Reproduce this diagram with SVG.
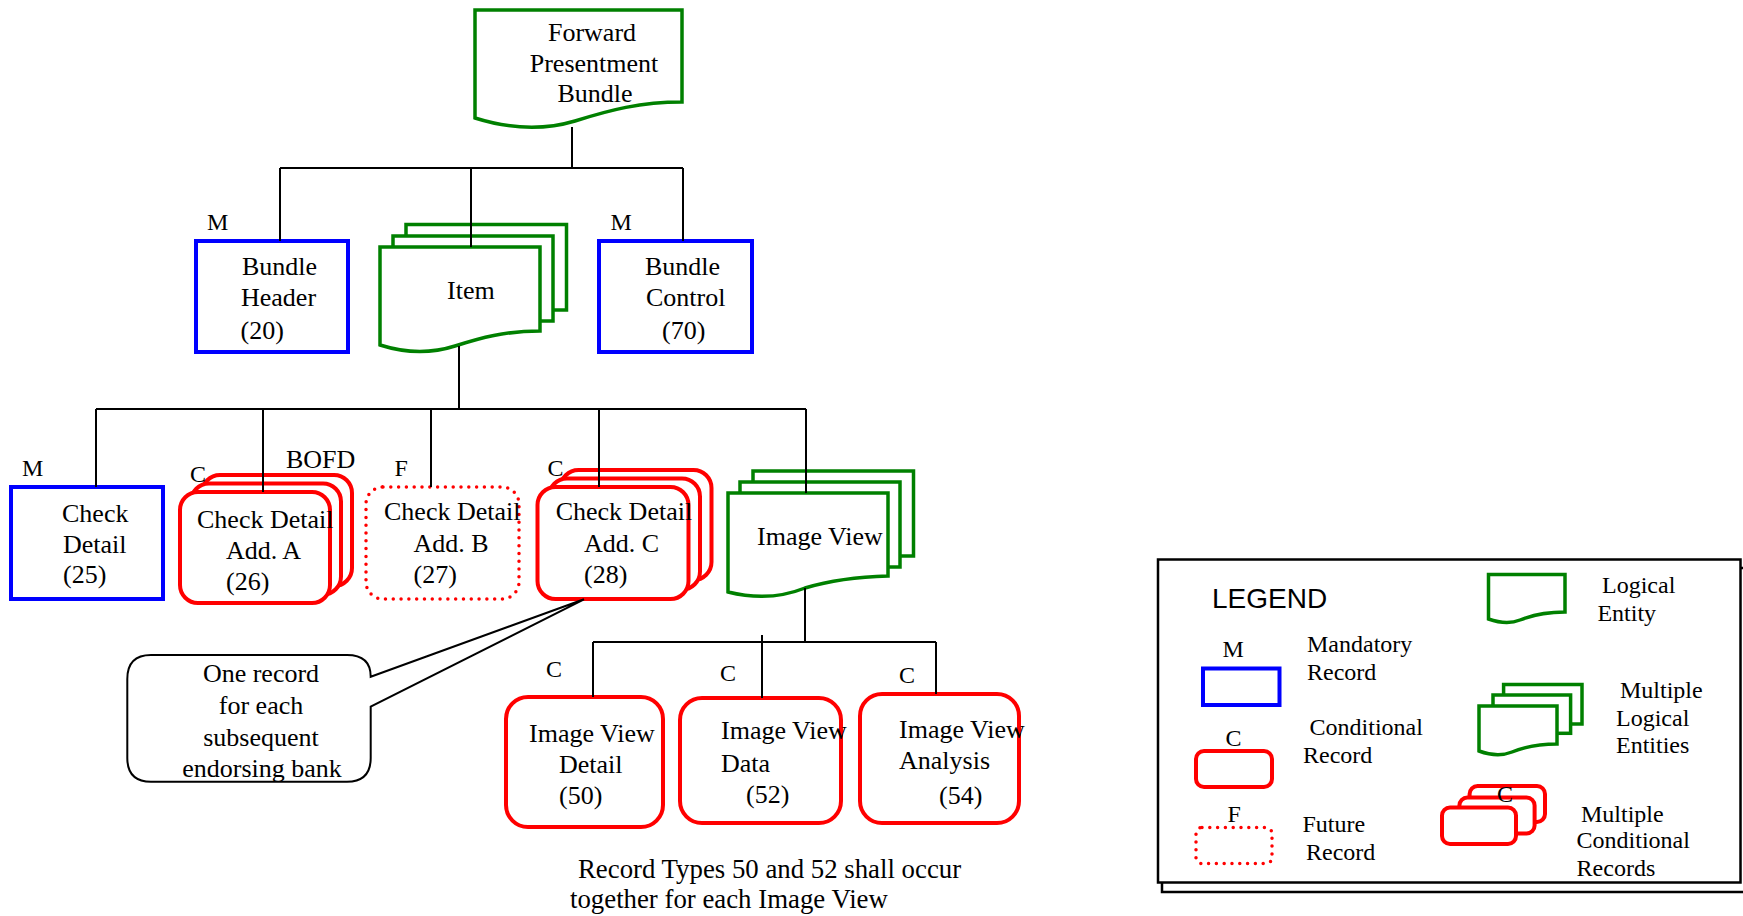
<svg xmlns="http://www.w3.org/2000/svg" width="1743" height="916" viewBox="0 0 1743 916">
<style>
.t{font-family:"Liberation Serif","Times New Roman",serif;font-size:26px;fill:#000}
.n{font-family:"Liberation Serif","Times New Roman",serif;font-size:26.8px;fill:#000}
.l{font-family:"Liberation Serif","Times New Roman",serif;font-size:24px;fill:#000}
.lg{font-family:"Liberation Serif","Times New Roman",serif;font-size:24px;fill:#000}
.hd{font-family:"Liberation Sans",Arial,sans-serif;font-size:28px;fill:#000}
.mand{fill:#fff;stroke:#0000ff;stroke-width:4}
.cond{fill:#fff;stroke:#ff0000;stroke-width:4}
.fut{fill:#fff;stroke:#ff0000;stroke-width:3.5;stroke-dasharray:0 7.8;stroke-linecap:round}
.ent{fill:#fff;stroke:#008000;stroke-width:3.5}
.conn{fill:none;stroke:#000;stroke-width:2}
.box{fill:#fff;stroke:#000;stroke-width:2.5}
</style>

<g id="forward-presentment-bundle">
<path class="ent" d="M475,10 H682 V102 C640,102 610,110 575,121 C545,130 510,129 475,118 Z"/>
<text class="t" x="592" y="41" text-anchor="middle">Forward</text>
<text class="t" x="594" y="72" text-anchor="middle">Presentment</text>
<text class="t" x="595" y="102" text-anchor="middle">Bundle</text>
</g>

<g id="bundle-header">
<rect class="mand" x="196" y="241" width="152" height="111"/>
<text class="l" x="207" y="230">M</text>
<text class="t" x="242" y="275">Bundle</text>
<text class="t" x="241" y="306">Header</text>
<text class="t" x="240.5" y="339">(20)</text>
</g>

<g id="item">
<rect class="ent" x="406" y="224.5" width="160.5" height="85.5"/>
<rect class="ent" x="393" y="236" width="160" height="85"/>
<path class="ent" d="M380,247 H540 V331 C505,331 480,338 455,346 C430,354 405,353 380,345 Z"/>
<text class="t" x="447" y="299">Item</text>
</g>

<g id="bundle-control">
<rect class="mand" x="599" y="241" width="153" height="111"/>
<text class="l" x="610.5" y="230">M</text>
<text class="t" x="645" y="275">Bundle</text>
<text class="t" x="646" y="306">Control</text>
<text class="t" x="662" y="339">(70)</text>
</g>

<g id="check-detail">
<rect class="mand" x="11" y="487" width="152" height="112"/>
<text class="l" x="22" y="476">M</text>
<text class="t" x="62" y="522">Check</text>
<text class="t" x="63" y="553">Detail</text>
<text class="t" x="63" y="583">(25)</text>
</g>

<g id="check-detail-add-a">
<rect class="cond" x="202" y="475" width="150" height="111" rx="18"/>
<rect class="cond" x="191" y="483.5" width="150" height="111" rx="18"/>
<rect class="cond" x="180" y="492" width="150" height="111" rx="18"/>
<text class="l" x="190" y="482">C</text>
<text class="t" x="286" y="468">BOFD</text>
<text class="t" x="197" y="528">Check Detail</text>
<text class="t" x="226" y="559">Add. A</text>
<text class="t" x="226" y="590">(26)</text>
</g>

<g id="check-detail-add-b">
<rect class="fut" x="366" y="487" width="153" height="112" rx="17"/>
<text class="l" x="394.6" y="476">F</text>
<text class="t" x="384" y="520">Check Detail</text>
<text class="t" x="413.6" y="552">Add. B</text>
<text class="t" x="413.6" y="583">(27)</text>
</g>

<g id="check-detail-add-c">
<rect class="cond" x="560.5" y="470" width="151" height="110" rx="18"/>
<rect class="cond" x="549" y="478.5" width="151" height="111" rx="18"/>
<rect class="cond" x="537.5" y="487" width="151" height="112" rx="18"/>
<text class="l" x="547.5" y="476">C</text>
<text class="t" x="555.7" y="520">Check Detail</text>
<text class="t" x="584" y="552">Add. C</text>
<text class="t" x="584" y="583">(28)</text>
</g>

<g id="image-view">
<rect class="ent" x="753" y="471" width="160.5" height="85"/>
<rect class="ent" x="740" y="482" width="160" height="85"/>
<path class="ent" d="M728,493 H888 V576 C850,577 825,582 805,588 C785,596 760,600 728,592 Z"/>
<text class="t" x="757" y="545">Image View</text>
</g>

<g id="callout">
<path fill="#fff" stroke="#000" stroke-width="2" d="M151,655 H347 Q370.7,655 370.7,676.7 L584,599.3 L370.7,706.7 V758 Q370.7,781.7 347,781.7 H151 Q127.3,781.7 127.3,758 V679 Q127.3,655 151,655 Z"/>
<text class="t" x="261" y="682" text-anchor="middle">One record</text>
<text class="t" x="261" y="714" text-anchor="middle">for each</text>
<text class="t" x="261" y="746" text-anchor="middle">subsequent</text>
<text class="t" x="262" y="777" text-anchor="middle">endorsing bank</text>
</g>

<g id="image-view-detail">
<rect class="cond" x="506" y="697" width="157" height="130" rx="22"/>
<text class="l" x="546" y="677">C</text>
<text class="t" x="529" y="742">Image View</text>
<text class="t" x="559" y="773">Detail</text>
<text class="t" x="559" y="804">(50)</text>
</g>

<g id="image-view-data">
<rect class="cond" x="680" y="698" width="161" height="125" rx="22"/>
<text class="l" x="720" y="681">C</text>
<text class="t" x="721" y="739">Image View</text>
<text class="t" x="721" y="772">Data</text>
<text class="t" x="746" y="803">(52)</text>
</g>

<g id="image-view-analysis">
<rect class="cond" x="860" y="694" width="159" height="129" rx="22"/>
<text class="l" x="899" y="683">C</text>
<text class="t" x="899" y="738">Image View</text>
<text class="t" x="899" y="769">Analysis</text>
<text class="t" x="939" y="804">(54)</text>
</g>

<g id="note">
<text class="n" x="578" y="878">Record Types 50 and 52 shall occur</text>
<text class="n" x="570" y="908">together for each Image View</text>
</g>

<g id="connectors">
<path class="conn" d="M572,127 V168 M280,168 H683 M280,168 V241 M471,168 V247 M683,168 V241"/>
<path class="conn" d="M459,346 V409 M96,409 H806 M96,409 V487 M263,409 V492 M431,409 V487 M599,409 V487 M806,409 V493"/>
<path class="conn" d="M805,588 V642 M593,642 H936 M593,642 V697 M762,635 V698 M936,642 V694"/>
</g>

<g id="legend">
<rect fill="none" stroke="#000" stroke-width="2.5" x="1162" y="568" width="590" height="324"/>
<rect class="box" x="1158" y="559.5" width="582.5" height="323"/>
<text class="hd" x="1212" y="608">LEGEND</text>
<text class="lg" x="1222.6" y="657">M</text>
<rect class="mand" x="1203" y="668.5" width="76.5" height="36.5"/>
<text class="lg" x="1307" y="652">Mandatory</text>
<text class="lg" x="1307" y="680">Record</text>
<text class="lg" x="1225.6" y="746">C</text>
<rect class="cond" x="1196" y="751" width="76" height="36" rx="8"/>
<text class="lg" x="1309.6" y="735">Conditional</text>
<text class="lg" x="1303" y="763">Record</text>
<text class="lg" x="1227.5" y="822">F</text>
<rect class="fut" x="1196" y="827.5" width="76" height="36" rx="6"/>
<text class="lg" x="1302.4" y="832">Future</text>
<text class="lg" x="1306" y="860">Record</text>
<path class="ent" d="M1488.5,574.5 H1565 V612 C1545,612 1530,616 1520,620 C1510,624 1500,623 1488.5,619 Z"/>
<text class="lg" x="1602" y="593">Logical</text>
<text class="lg" x="1597.4" y="621">Entity</text>
<rect class="ent" x="1503.6" y="684.5" width="78.4" height="39.5"/>
<rect class="ent" x="1493" y="695" width="77.6" height="38.3"/>
<path class="ent" d="M1479,706 H1557 V744 C1537,744 1522,748 1512,752 C1502,756 1490,755 1479,751 Z"/>
<text class="lg" x="1620" y="698">Multiple</text>
<text class="lg" x="1616" y="726">Logical</text>
<text class="lg" x="1616" y="753">Entities</text>
<rect class="cond" x="1469.6" y="786" width="75.4" height="36" rx="8"/>
<rect class="cond" x="1459.4" y="797.5" width="75.2" height="36" rx="8"/>
<rect class="cond" x="1442" y="807.5" width="74" height="36.5" rx="8"/>
<text class="lg" x="1497" y="802">C</text>
<text class="lg" x="1581" y="822">Multiple</text>
<text class="lg" x="1576.6" y="848">Conditional</text>
<text class="lg" x="1576.6" y="876">Records</text>
</g>
</svg>
